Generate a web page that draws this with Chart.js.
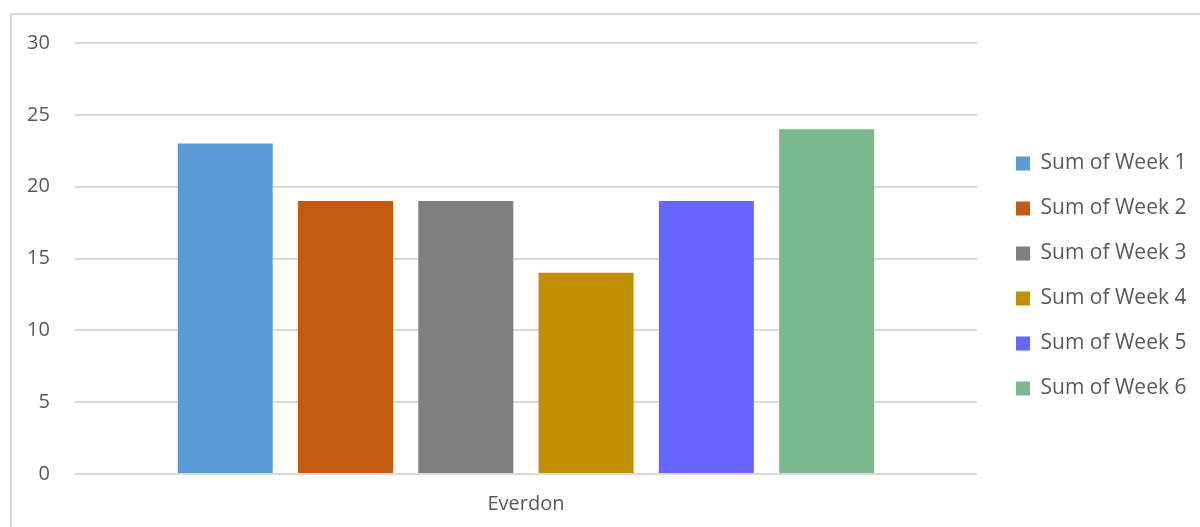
<!DOCTYPE html>
<html>
<head>
<meta charset="utf-8">
<script src="https://cdn.jsdelivr.net/npm/chart.js@4.4.0/dist/chart.umd.min.js"></script>
<style>
  html, body { margin: 0; padding: 0; background: #fff; overflow: hidden; }
  #frame {
    position: absolute; left: 10px; top: 13px; width: 1300px; height: 600px;
    border: 2px solid #d9d9d9; box-sizing: border-box;
  }
  #wrap { position: absolute; left: 0; top: 0; width: 1200px; height: 527px; }
</style>
</head>
<body>
<div id="frame"></div>
<div id="wrap"><canvas id="chart"></canvas></div>
<script>
const categories = ['Everdon'];
const seriesNames = ['Sum of Week 1', 'Sum of Week 2', 'Sum of Week 3', 'Sum of Week 4', 'Sum of Week 5', 'Sum of Week 6'];
const week1 = [23];
const week2 = [19];
const week3 = [19];
const week4 = [14];
const week5 = [19];
const week6 = [24];
const seriesColors = ['#5b9bd5', '#c55a11', '#7f7f7f', '#bf9000', '#6666ff', '#7ab98c'];

const seriesValues = [week1, week2, week3, week4, week5, week6];
const datasets = seriesValues.map((vals, i) => ({
  label: seriesNames[i],
  data: vals,
  backgroundColor: seriesColors[i],
  borderWidth: 0,
  categoryPercentage: 0.8,
  barPercentage: 0.79
}));

const fontFamily = "'Open Sans', 'Liberation Sans', sans-serif";

new Chart(document.getElementById('chart'), {
  type: 'bar',
  data: { labels: categories, datasets: datasets },
  options: {
    responsive: true,
    maintainAspectRatio: false,
    animation: false,
    layout: { padding: { top: 43, bottom: 0, left: 2, right: 10 } },
    plugins: {
      tooltip: { enabled: false },
      legend: {
        position: 'right',
        align: 'start',
        // empty title used only as a spacer to push the items down
        title: { display: true, text: '', font: { size: 10 }, padding: { top: 74, bottom: 0 } },
        labels: {
          boxWidth: 14,
          boxHeight: 14,
          padding: 24,
          color: '#595959',
          font: { family: fontFamily, size: 21 }
        }
      }
    },
    scales: {
      x: {
        grid: { display: false, drawTicks: false },
        border: { display: false },
        ticks: { color: '#595959', font: { family: fontFamily, size: 20 }, padding: 18 },
        afterFit: s => { s.height = 53; }
      },
      y: {
        min: 0,
        max: 30,
        grid: { color: '#d9d9d9', lineWidth: 2, drawTicks: false },
        border: { display: false },
        ticks: { stepSize: 5, color: '#595959', font: { family: fontFamily, size: 20 }, padding: 25 }
      },
      gap: {
        position: 'right',
        display: true,
        grid: { display: false, drawTicks: false },
        border: { display: false },
        ticks: { display: false },
        afterFit: s => { s.width = 15; }
      }
    }
  }
});
</script>
</body>
</html>
